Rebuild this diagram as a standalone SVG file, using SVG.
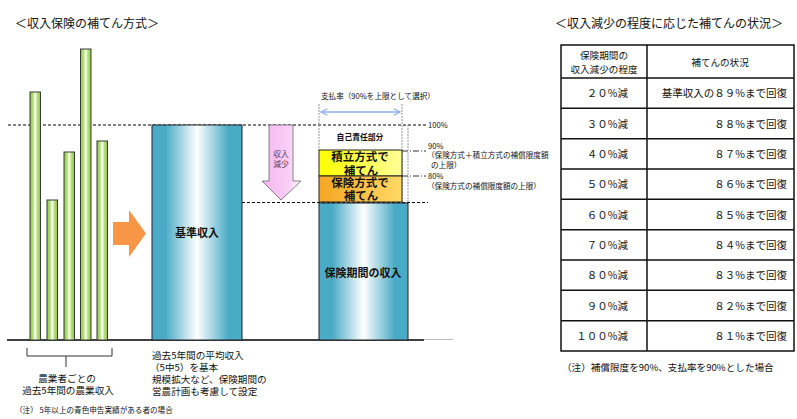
<svg xmlns="http://www.w3.org/2000/svg" width="797" height="419" viewBox="0 0 797 419">
<defs>
<linearGradient id="gGreen" x1="0" x2="1" y1="0" y2="0">
<stop offset="0" stop-color="#8cc63f"/><stop offset="0.3" stop-color="#b8e07e"/><stop offset="0.5" stop-color="#ffffff"/><stop offset="0.7" stop-color="#b8e07e"/><stop offset="1" stop-color="#8cc63f"/>
</linearGradient>
<linearGradient id="gBlue" x1="0" x2="1" y1="0" y2="0">
<stop offset="0" stop-color="#4aabc6"/><stop offset="0.15" stop-color="#4aabc6"/><stop offset="0.5" stop-color="#ffffff"/><stop offset="0.85" stop-color="#4aabc6"/><stop offset="1" stop-color="#4aabc6"/>
</linearGradient>
<linearGradient id="gYellow" x1="0" x2="1" y1="0" y2="0">
<stop offset="0" stop-color="#ffff00"/><stop offset="1" stop-color="#ffff99"/>
</linearGradient>
<linearGradient id="gOrange" x1="0" x2="1" y1="0" y2="0">
<stop offset="0" stop-color="#f5a623"/><stop offset="1" stop-color="#ffd966"/>
</linearGradient>
<linearGradient id="gPink" x1="0" x2="1" y1="0" y2="0">
<stop offset="0" stop-color="#f5b6f0"/><stop offset="0.7" stop-color="#f9cff6"/><stop offset="1" stop-color="#ffffff"/>
</linearGradient>
<marker id="chev" viewBox="0 0 10 10" refX="9" refY="5" markerWidth="8" markerHeight="8" orient="auto-start-reverse" markerUnits="userSpaceOnUse">
<path d="M1,1 L9,5 L1,9" fill="none" stroke="#8db3e2" stroke-width="1.4"/>
</marker>
</defs>
<style>
text{font-family:"Noto Sans CJK JP","Liberation Sans",sans-serif;fill:#111}
.t12{font-size:12px}
.t10{font-size:9.6px}
.t8{font-size:7.6px}
.b{font-weight:bold}
.bx{font-weight:bold;font-size:11.5px}
.bar{fill:url(#gGreen);stroke:#3a3a3a;stroke-width:1}
.dash{stroke:#000;stroke-width:1;stroke-dasharray:3,2;fill:none}
.dd{stroke:#333;stroke-width:1;stroke-dasharray:6,2,1,2;fill:none}
.vg{stroke:#999;stroke-width:1;stroke-dasharray:2,1;fill:none}
.tb{stroke:#111;stroke-width:1.5;fill:none}
.td{font-size:10.5px}
</style>
<rect width="797" height="419" fill="#fff"/>

<g id="title-left"><text class="t12" x="15" y="28">＜収入保険の補てん方式＞</text></g>
<g id="title-right"><text class="t12" x="555" y="28">＜収入減少の程度に応じた補てんの状況＞</text></g>

<g id="connectors">
<line class="dash" x1="8" y1="125" x2="427" y2="125"/>
<line class="dash" x1="242" y1="202.5" x2="428" y2="202.5"/>
<line x1="7" y1="340" x2="424" y2="340" stroke="#000" stroke-width="1.5"/>
<line x1="424" y1="339.5" x2="453" y2="339.5" stroke="#bbb" stroke-width="1"/>
<line class="vg" x1="319" y1="104" x2="319" y2="150"/>
<line class="vg" x1="402" y1="104" x2="402" y2="202"/>
<line class="vg" x1="408" y1="125" x2="408" y2="202"/>
<line class="dd" x1="402" y1="151" x2="426" y2="151"/>
<line class="dd" x1="402" y1="176" x2="426" y2="176"/>
<line x1="321" y1="112" x2="400" y2="112" stroke="#8db3e2" stroke-width="1.4" marker-start="url(#chev)" marker-end="url(#chev)"/>
<path d="M27,348 L27,356 L112,356 L112,348 M66,356 L66,367" fill="none" stroke="#333" stroke-width="1"/>
</g>

<g id="bars">
<rect class="bar" x="30" y="92" width="10.5" height="248"/>
<rect class="bar" x="47" y="200" width="10.5" height="140"/>
<rect class="bar" x="64" y="152" width="10.5" height="188"/>
<rect class="bar" x="80.5" y="49" width="10.5" height="291"/>
<rect class="bar" x="97" y="141" width="10.5" height="199"/>
</g>

<g id="farm-label">
<text class="t10" x="67" y="381.5" text-anchor="middle">農業者ごとの</text>
<text class="t10" x="68" y="393.5" text-anchor="middle">過去5年間の農業収入</text>
</g>

<g id="orange-arrow"><polygon points="113,222 129,222 129,210 146,233.5 129,257 129,245 113,245" fill="#f79646"/></g>

<g id="base-income">
<rect x="152" y="125" width="90" height="215" fill="url(#gBlue)" stroke="#222" stroke-width="1"/>
<text class="b" x="197" y="237" font-size="11px" text-anchor="middle">基準収入</text>
</g>

<g id="base-note">
<text class="t10" x="152" y="359">過去5年間の平均収入</text>
<text class="t10" x="150" y="371">（5中5）を基本</text>
<text class="t10" x="152" y="382.5">規模拡大など、保険期間の</text>
<text class="t10" x="152" y="394.5">営農計画も考慮して設定</text>
</g>

<g id="note-left"><text class="t8" x="15" y="413">（注） 5年以上の青色申告実績がある者の場合</text></g>

<g id="decrease-arrow">
<polygon points="269,125 293,125 293,181 301,181 281,200 262,181 269,181" fill="url(#gPink)" stroke="#666" stroke-width="0.8"/>
<text x="281" y="157" font-size="7.8px" text-anchor="middle" style="fill:#5a3a5a">収入</text>
<text x="281" y="167" font-size="7.8px" text-anchor="middle" style="fill:#5a3a5a">減少</text>
</g>

<g id="pay-rate"><text class="t8" x="321" y="99">支払率（90%を上限として選択）</text></g>

<g id="self-part"><text class="b" x="360" y="140" font-size="7.8px" text-anchor="middle">自己責任部分</text></g>

<g id="reserve">
<rect x="319" y="150" width="83" height="26" fill="url(#gYellow)" stroke="#222" stroke-width="1"/>
<text class="bx" x="360" y="161" text-anchor="middle">積立方式で</text>
<text class="bx" x="361" y="174.5" text-anchor="middle">補てん</text>
</g>

<g id="insurance">
<rect x="319" y="176" width="83" height="26" fill="url(#gOrange)" stroke="#222" stroke-width="1"/>
<text class="bx" x="360" y="187" text-anchor="middle">保険方式で</text>
<text class="bx" x="361" y="200" text-anchor="middle">補てん</text>
</g>

<g id="period-income">
<rect x="319" y="203" width="89" height="137" fill="url(#gBlue)" stroke="#222" stroke-width="1"/>
<text class="b" x="363" y="277" font-size="11px" text-anchor="middle">保険期間の収入</text>
</g>

<g id="level-labels">
<text class="t8" x="428" y="128">100%</text>
<text class="t8" x="428" y="149">90%</text>
<text class="t8" x="427" y="158">（保険方式＋積立方式の補償限度額</text>
<text class="t8" x="431" y="168">の上限）</text>
<text class="t8" x="428" y="179">80%</text>
<text class="t8" x="427" y="189">（保険方式の補償限度額の上限）</text>
</g>

<g id="table">
<rect class="tb" x="561" y="45" width="233" height="306"/>
<line class="tb" x1="647" y1="45" x2="647" y2="351"/>
<line class="tb" x1="561" y1="78" x2="794" y2="78"/>
<line class="tb" x1="561" y1="108.3" x2="794" y2="108.3"/>
<line class="tb" x1="561" y1="138.7" x2="794" y2="138.7"/>
<line class="tb" x1="561" y1="169" x2="794" y2="169"/>
<line class="tb" x1="561" y1="199.3" x2="794" y2="199.3"/>
<line class="tb" x1="561" y1="229.7" x2="794" y2="229.7"/>
<line class="tb" x1="561" y1="260" x2="794" y2="260"/>
<line class="tb" x1="561" y1="290.3" x2="794" y2="290.3"/>
<line class="tb" x1="561" y1="320.7" x2="794" y2="320.7"/>
<text class="t10" x="604" y="59" text-anchor="middle">保険期間の</text>
<text class="t10" x="604" y="73" text-anchor="middle">収入減少の程度</text>
<text class="t10" x="720" y="66" text-anchor="middle">補てんの状況</text>
<g class="td">
<text class="td" x="628" y="97" text-anchor="end">２０%減</text>
<text class="td" x="787" y="97" text-anchor="end">基準収入の８９%まで回復</text>
<text class="td" x="628" y="127.5" text-anchor="end">３０%減</text>
<text class="td" x="787" y="127.5" text-anchor="end">８８%まで回復</text>
<text class="td" x="628" y="158" text-anchor="end">４０%減</text>
<text class="td" x="787" y="158" text-anchor="end">８７%まで回復</text>
<text class="td" x="628" y="188" text-anchor="end">５０%減</text>
<text class="td" x="787" y="188" text-anchor="end">８６%まで回復</text>
<text class="td" x="628" y="218.5" text-anchor="end">６０%減</text>
<text class="td" x="787" y="218.5" text-anchor="end">８５%まで回復</text>
<text class="td" x="628" y="249" text-anchor="end">７０%減</text>
<text class="td" x="787" y="249" text-anchor="end">８４%まで回復</text>
<text class="td" x="628" y="279" text-anchor="end">８０%減</text>
<text class="td" x="787" y="279" text-anchor="end">８３%まで回復</text>
<text class="td" x="628" y="309.5" text-anchor="end">９０%減</text>
<text class="td" x="787" y="309.5" text-anchor="end">８２%まで回復</text>
<text class="td" x="628" y="340" text-anchor="end">１００%減</text>
<text class="td" x="787" y="340" text-anchor="end">８１%まで回復</text>
</g>
</g>

<g id="note-right"><text x="562" y="371" font-size="9.6px">（注）補償限度を90%、支払率を90%とした場合</text></g>
</svg>
